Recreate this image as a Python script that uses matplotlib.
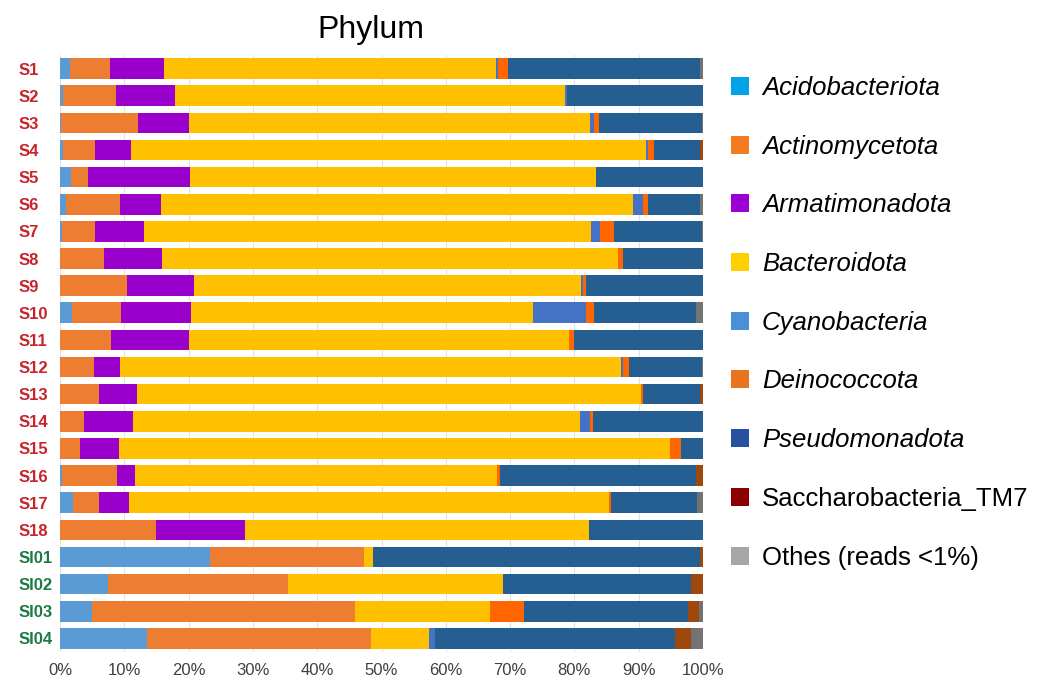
import numpy as np
import matplotlib
matplotlib.use("Agg")
import matplotlib.pyplot as plt
from matplotlib.patches import Patch

plt.rcParams['font.family'] = ['Liberation Sans', 'DejaVu Sans']

# Samples (top to bottom)
samples = ['S1', 'S2', 'S3', 'S4', 'S5', 'S6', 'S7', 'S8', 'S9', 'S10', 'S11',
           'S12', 'S13', 'S14', 'S15', 'S16', 'S17', 'S18',
           'SI01', 'SI02', 'SI03', 'SI04']

# Relative abundance (%) per phylum
acido = [1.5, 0.4, 0.2, 0.4, 1.7, 1.0, 0.3, 0, 0, 1.8, 0, 0, 0, 0, 0, 0.3, 2.0, 0, 23.3, 7.4, 5.0, 13.6]
actino = [6.2, 8.3, 11.9, 5.0, 2.6, 8.3, 5.1, 6.9, 10.4, 7.7, 7.9, 5.3, 6.0, 3.8, 3.1, 8.6, 4.0, 14.9, 24.0, 28.1, 40.9, 34.7]
armat = [8.4, 9.2, 7.9, 5.6, 15.9, 6.4, 7.7, 8.9, 10.4, 10.9, 12.1, 4.0, 6.0, 7.6, 6.1, 2.7, 4.8, 13.9, 0, 0, 0, 0]
bacter = [51.7, 60.7, 62.4, 80.1, 63.2, 73.4, 69.4, 70.9, 60.2, 53.1, 59.1, 77.9, 78.4, 69.4, 85.6, 56.3, 74.5, 53.4, 1.3, 33.4, 21.0, 9.1]
cyano = [0.3, 0.3, 0.6, 0.3, 0, 1.5, 1.4, 0, 0.4, 8.3, 0, 0.4, 0, 1.6, 0, 0, 0, 0, 0, 0, 0, 0.9]
deino = [1.6, 0, 0.8, 0.9, 0, 0.8, 2.3, 0.9, 0.4, 1.2, 0.8, 0.9, 0.2, 0.5, 1.7, 0.5, 0.4, 0, 0, 0, 5.3, 0]
pseudo = [29.8, 21.1, 16.1, 7.2, 16.6, 8.1, 13.6, 12.4, 18.2, 15.9, 20.1, 11.4, 8.9, 17.1, 3.5, 30.5, 13.4, 17.8, 50.9, 29.2, 25.5, 37.3]
sacch = [0, 0, 0, 0.5, 0, 0, 0, 0, 0, 0, 0, 0, 0.5, 0, 0, 1.1, 0, 0, 0.5, 1.9, 1.7, 2.5]
others = [0.5, 0, 0.1, 0, 0, 0.5, 0.2, 0, 0, 1.1, 0, 0.1, 0, 0, 0, 0, 0.9, 0, 0, 0, 0.6, 1.9]

phyla = ['Acidobacteriota', 'Actinomycetota', 'Armatimonadota', 'Bacteroidota',
         'Cyanobacteria', 'Deinococcota', 'Pseudomonadota', 'Saccharobacteria_TM7',
         'Othes (reads <1%)']
series = [acido, actino, armat, bacter, cyano, deino, pseudo, sacch, others]

bar_colors = ['#5B9BD5', '#ED7D31', '#9900CC', '#FFC000', '#4472C4',
              '#FF6600', '#255E91', '#9E480E', '#737373']
key_colors = ['#00A2E8', '#F47B20', '#9B00D3', '#FFD000', '#4A8FD8',
              '#E8741E', '#2850A0', '#8B0000', '#A6A6A6']

fig = plt.figure(figsize=(10.38, 6.8), dpi=100)
ax = fig.add_axes([0.0578, 0.0413, 0.6195, 0.8778])

y = np.arange(len(samples))
left = np.zeros(len(samples))
for vals, col in zip(series, bar_colors):
    vals = np.array(vals, dtype=float)
    ax.barh(y, vals, left=left, height=0.76, color=col, edgecolor='none', zorder=2)
    left += vals

ax.set_xlim(0, 100)
ax.set_ylim(len(samples) - 0.5, -0.5)
ax.set_xticks(np.arange(0, 101, 10))
ax.set_xticklabels([f'{v}%' for v in range(0, 101, 10)], fontsize=12, color='#404040')
ax.set_yticks(y)
ax.set_yticklabels(samples, fontsize=12, fontweight='bold', ha='left')
for lbl in ax.get_yticklabels():
    lbl.set_color('#1E7A45' if lbl.get_text().startswith('SI') else '#C8242B')
ax.tick_params(axis='both', length=0)
ax.tick_params(axis='y', pad=30)
ax.tick_params(axis='x', pad=8)
ax.grid(axis='x', color='#E3E3E3', linewidth=0.8, zorder=0)
for s in ax.spines.values():
    s.set_visible(False)

fig.text(371 / 1038, 1 - 30 / 680, 'Phylum', fontsize=23, ha='center', va='center')

handles = [Patch(facecolor=c, edgecolor='none') for c in key_colors]
leg = fig.legend(handles, phyla, loc='upper left', bbox_to_anchor=(731 / 1038, 1 - 76 / 680),
                 frameon=False, fontsize=18.5, labelspacing=1.35, handlelength=0.7,
                 handleheight=0.7, handletextpad=0.5, borderpad=0, borderaxespad=0)
for t in leg.get_texts()[:7]:
    t.set_fontstyle('italic')

fig.savefig('out.png', dpi=100)
